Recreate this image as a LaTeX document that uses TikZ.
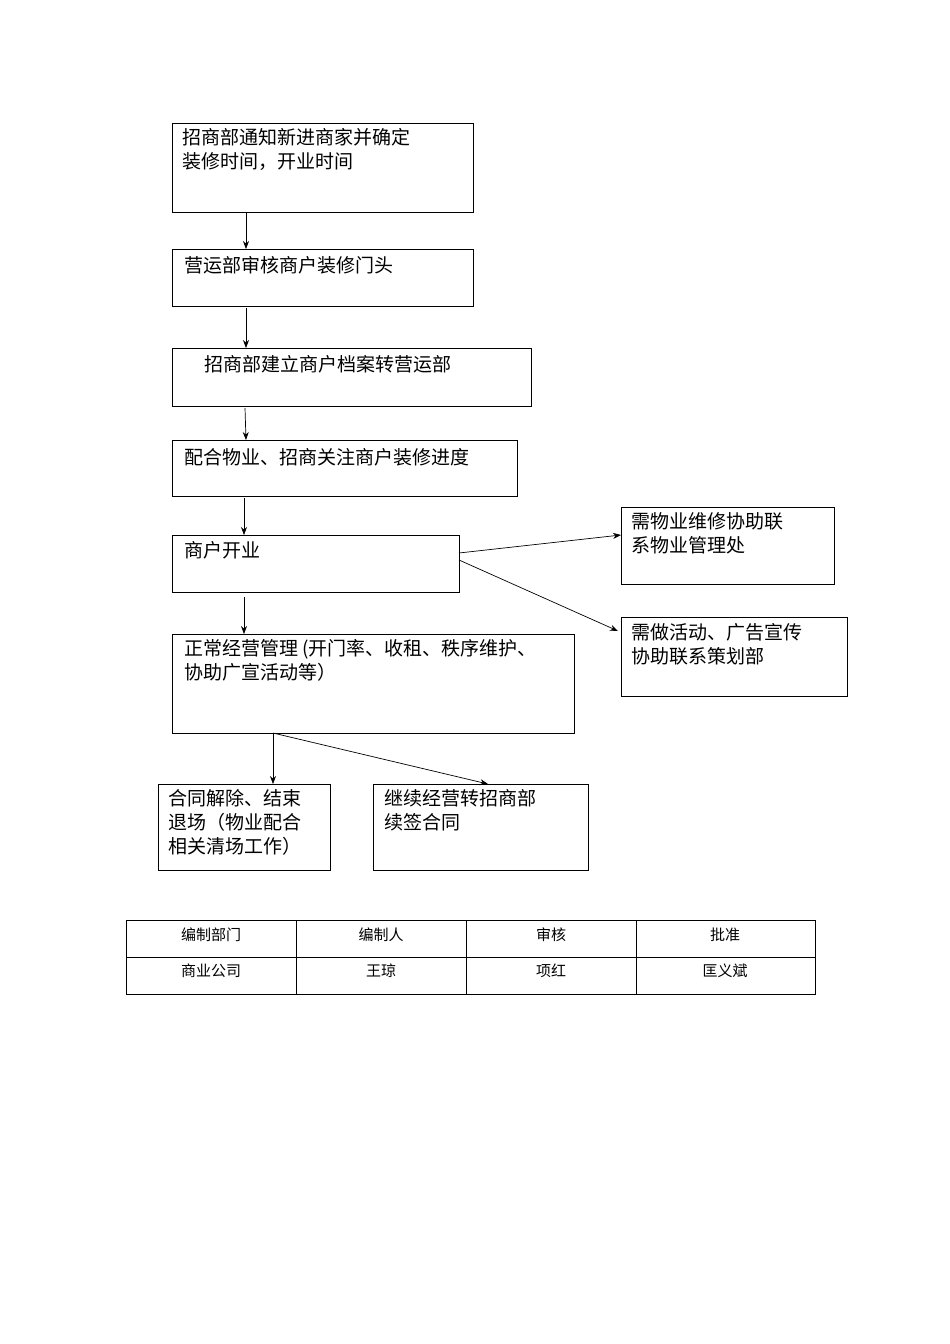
\documentclass[tikz,border=0pt]{standalone}
\usepackage{fontspec}
\setmainfont{Noto Sans CJK SC}
\usetikzlibrary{arrows.meta}
\begin{document}
\begin{tikzpicture}[x=1pt,y=-1pt,
 box/.style={draw,line width=0.8pt},
 txt/.style={anchor=north west,inner sep=0pt,align=left,font=\fontsize{19}{24}\selectfont},
 arr/.style={-{Stealth[length=8pt,width=6pt]},line width=0.7pt},
 cell/.style={font=\fontsize{15}{18}\selectfont}]
\useasboundingbox (0,0) rectangle (950,1344);
\draw[box] (172,123) rectangle (473,212); \node[txt] at (182,128) {招商部通知新进商家并确定\\装修时间，开业时间};
\draw[box] (172,249) rectangle (473,306); \node[txt] at (184,256) {营运部审核商户装修门头};
\draw[box] (172,348) rectangle (531,406); \node[txt] at (204,355) {招商部建立商户档案转营运部};
\draw[box] (172,440) rectangle (517,496); \node[txt] at (184,448) {配合物业、招商关注商户装修进度};
\draw[box] (172,535) rectangle (459,592); \node[txt] at (184,541) {商户开业};
\draw[box] (172,634) rectangle (574,733); \node[txt] at (184,639) {正常经营管理 (开门率、收租、秩序维护、\\协助广宣活动等）};
\draw[box] (621,507) rectangle (834,584); \node[txt] at (631,512) {需物业维修协助联\\系物业管理处};
\draw[box] (621,617) rectangle (847,696); \node[txt] at (631,623) {需做活动、广告宣传\\协助联系策划部};
\draw[box] (158,784) rectangle (330,870); \node[txt] at (168,789) {合同解除、结束\\退场（物业配合\\相关清场工作）};
\draw[box] (373,784) rectangle (588,870); \node[txt] at (384,789) {继续经营转招商部\\续签合同};
\coordinate (a1) at (246,212); \coordinate (a2) at (246,249);
\draw[arr] (a1) -- (a2);
\coordinate (b1) at (246,308); \coordinate (b2) at (246,348);
\draw[arr] (b1) -- (b2);
\coordinate (c1) at (245,408); \coordinate (c2) at (246,440);
\draw[arr] (c1) -- (c2);
\coordinate (d1) at (244,498); \coordinate (d2) at (244,535);
\draw[arr] (d1) -- (d2);
\coordinate (e1) at (244,597); \coordinate (e2) at (244,634);
\draw[arr] (e1) -- (e2);
\coordinate (f0) at (459,553); \coordinate (f1) at (621,535);
\draw[arr] (f0) -- (f1);
\coordinate (g0) at (459,560); \coordinate (g1) at (618,631);
\draw[arr] (g0) -- (g1);
\coordinate (h0) at (273,733); \coordinate (h1) at (273,784); \coordinate (h2) at (488,784);
\draw[arr] (h0) -- (h1);
\draw[arr] (h0) -- (h2);
\draw[line width=0.6pt] (126,920) rectangle (815,994);
\draw[line width=0.6pt] (126,957) -- (815,957);
\foreach \x in {296,466,636} \draw[line width=0.6pt] (\x,920) -- (\x,994);
\node[cell] at (211,935) {编制部门};
\node[cell] at (381,935) {编制人};
\node[cell] at (551,935) {审核};
\node[cell] at (725,935) {批准};
\node[cell] at (211,971) {商业公司};
\node[cell] at (381,971) {王琼};
\node[cell] at (551,971) {项红};
\node[cell] at (725,971) {匡义斌};
\end{tikzpicture}
\end{document}
